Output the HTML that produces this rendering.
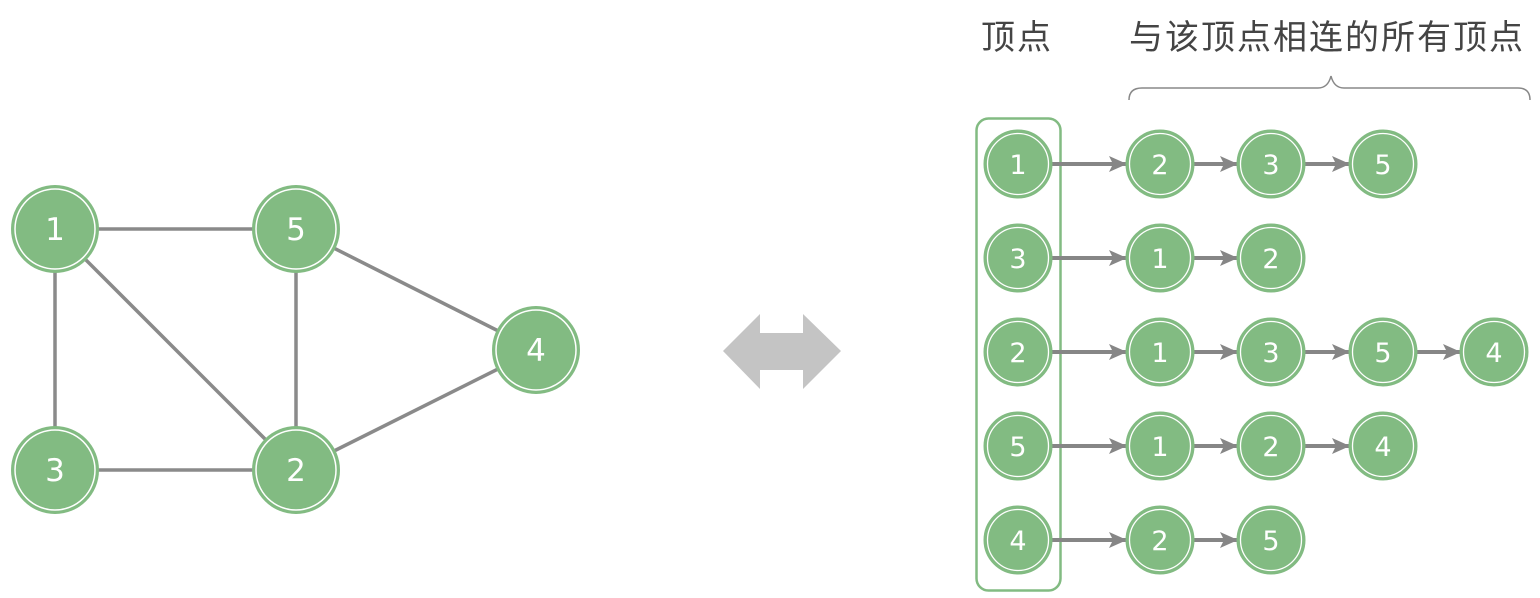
<!DOCTYPE html>
<html><head><meta charset="utf-8"><style>
html,body{margin:0;padding:0;background:#fff;}
svg{display:block}
</style></head><body>
<svg width="1540" height="598" viewBox="0 0 1540 598" xmlns="http://www.w3.org/2000/svg">
<defs>
<marker id="ah" viewBox="0 0 18 16" refX="17" refY="8" markerWidth="18" markerHeight="16" markerUnits="userSpaceOnUse" orient="auto">
<path d="M0,0 L18,8 L0,16 L4,8 Z" fill="#868686"/>
</marker>
</defs>
<g stroke="#8a8a8a" stroke-width="3.5">
<line x1="55" y1="229" x2="296" y2="229"/>
<line x1="55" y1="229" x2="55" y2="470"/>
<line x1="55" y1="229" x2="296" y2="470"/>
<line x1="296" y1="229" x2="296" y2="470"/>
<line x1="296" y1="229" x2="536" y2="350"/>
<line x1="55" y1="470" x2="296" y2="470"/>
<line x1="296" y1="470" x2="536" y2="350"/>
</g>
<g font-family="DejaVu Sans, Liberation Sans, sans-serif" font-size="31" fill="#fff" text-anchor="middle">
<g><circle cx="55" cy="229" r="44" fill="#82bb82"/><circle cx="55" cy="229" r="40" fill="none" stroke="#fff" stroke-width="1.5"/><text x="55" y="240">1</text></g>
<g><circle cx="296" cy="229" r="44" fill="#82bb82"/><circle cx="296" cy="229" r="40" fill="none" stroke="#fff" stroke-width="1.5"/><text x="296" y="240">5</text></g>
<g><circle cx="536" cy="350" r="44" fill="#82bb82"/><circle cx="536" cy="350" r="40" fill="none" stroke="#fff" stroke-width="1.5"/><text x="536" y="361">4</text></g>
<g><circle cx="55" cy="470" r="44" fill="#82bb82"/><circle cx="55" cy="470" r="40" fill="none" stroke="#fff" stroke-width="1.5"/><text x="55" y="481">3</text></g>
<g><circle cx="296" cy="470" r="44" fill="#82bb82"/><circle cx="296" cy="470" r="40" fill="none" stroke="#fff" stroke-width="1.5"/><text x="296" y="481">2</text></g>
</g>
<path d="M723,351 L760,314 L760,333 L803,333 L803,314 L841,351 L803,389 L803,370 L760,370 L760,389 Z" fill="#c4c4c4"/>
<g font-family="Liberation Sans, Noto Sans CJK SC, sans-serif" font-size="34" fill="#444" letter-spacing="2">
<text x="981" y="49">顶点</text>
<text x="1129" y="49">与该顶点相连的所有顶点</text>
</g>
<path d="M1129,100 Q1129,88 1142,88 L1318,88 Q1328,88 1331,76 Q1334,88 1344,88 L1518,88 Q1530,88 1530,100" fill="none" stroke="#888" stroke-width="1.5"/>
<rect x="976.5" y="118.5" width="84" height="472" rx="12" fill="none" stroke="#82bb82" stroke-width="2.5"/>
<g stroke="#868686" stroke-width="4" marker-end="url(#ah)">
<line x1="1052" y1="164" x2="1126" y2="164"/><line x1="1194" y1="164" x2="1237" y2="164"/><line x1="1305" y1="164" x2="1349" y2="164"/>
<line x1="1052" y1="258" x2="1126" y2="258"/><line x1="1194" y1="258" x2="1237" y2="258"/>
<line x1="1052" y1="352" x2="1126" y2="352"/><line x1="1194" y1="352" x2="1237" y2="352"/><line x1="1305" y1="352" x2="1349" y2="352"/><line x1="1417" y1="352" x2="1460" y2="352"/>
<line x1="1052" y1="446" x2="1126" y2="446"/><line x1="1194" y1="446" x2="1237" y2="446"/><line x1="1305" y1="446" x2="1349" y2="446"/>
<line x1="1052" y1="540" x2="1126" y2="540"/><line x1="1194" y1="540" x2="1237" y2="540"/>
</g>
<g font-family="DejaVu Sans, Liberation Sans, sans-serif" font-size="27" fill="#fff" text-anchor="middle">
<g fill="#82bb82" stroke="#82bb82">
<circle cx="1018" cy="164" r="34"/><circle cx="1160" cy="164" r="34"/><circle cx="1271" cy="164" r="34"/><circle cx="1383" cy="164" r="34"/>
<circle cx="1018" cy="258" r="34"/><circle cx="1160" cy="258" r="34"/><circle cx="1271" cy="258" r="34"/>
<circle cx="1018" cy="352" r="34"/><circle cx="1160" cy="352" r="34"/><circle cx="1271" cy="352" r="34"/><circle cx="1383" cy="352" r="34"/><circle cx="1494" cy="352" r="34"/>
<circle cx="1018" cy="446" r="34"/><circle cx="1160" cy="446" r="34"/><circle cx="1271" cy="446" r="34"/><circle cx="1383" cy="446" r="34"/>
<circle cx="1018" cy="540" r="34"/><circle cx="1160" cy="540" r="34"/><circle cx="1271" cy="540" r="34"/>
</g>
<g fill="none" stroke="#fff" stroke-width="1.3">
<circle cx="1018" cy="164" r="30.5"/><circle cx="1160" cy="164" r="30.5"/><circle cx="1271" cy="164" r="30.5"/><circle cx="1383" cy="164" r="30.5"/>
<circle cx="1018" cy="258" r="30.5"/><circle cx="1160" cy="258" r="30.5"/><circle cx="1271" cy="258" r="30.5"/>
<circle cx="1018" cy="352" r="30.5"/><circle cx="1160" cy="352" r="30.5"/><circle cx="1271" cy="352" r="30.5"/><circle cx="1383" cy="352" r="30.5"/><circle cx="1494" cy="352" r="30.5"/>
<circle cx="1018" cy="446" r="30.5"/><circle cx="1160" cy="446" r="30.5"/><circle cx="1271" cy="446" r="30.5"/><circle cx="1383" cy="446" r="30.5"/>
<circle cx="1018" cy="540" r="30.5"/><circle cx="1160" cy="540" r="30.5"/><circle cx="1271" cy="540" r="30.5"/>
</g>
<text x="1018" y="174">1</text><text x="1160" y="174">2</text><text x="1271" y="174">3</text><text x="1383" y="174">5</text>
<text x="1018" y="268">3</text><text x="1160" y="268">1</text><text x="1271" y="268">2</text>
<text x="1018" y="362">2</text><text x="1160" y="362">1</text><text x="1271" y="362">3</text><text x="1383" y="362">5</text><text x="1494" y="362">4</text>
<text x="1018" y="456">5</text><text x="1160" y="456">1</text><text x="1271" y="456">2</text><text x="1383" y="456">4</text>
<text x="1018" y="550">4</text><text x="1160" y="550">2</text><text x="1271" y="550">5</text>
</g>
</svg>
</body></html>
